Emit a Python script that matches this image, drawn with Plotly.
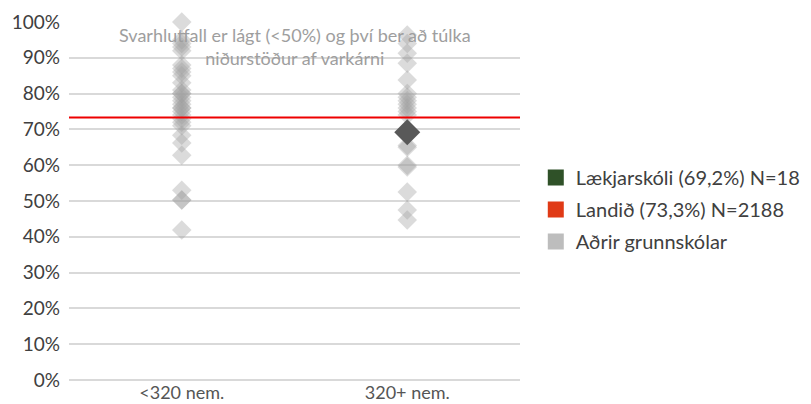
import plotly.graph_objects as go

categories = ["<320 nem.", "320+ nem."]

small_values = [100, 95, 94, 93, 92, 88, 87, 86, 85, 83, 81, 80, 80, 79, 78, 77, 76, 76, 75, 74, 73, 72, 71,
                68.4, 66.2, 62.8, 53, 50.3, 50.3, 41.9]
large_values = [96.4, 94, 91.3, 88.5, 83.8, 80, 79, 78, 77, 76, 75, 74, 65.5, 65, 60, 59.5, 52.5, 47.5, 44.7]

school_name = "Lækjarskóli (69,2%) N=18"
school_category = "320+ nem."
school_value = 69.2

national_name = "Landið (73,3%) N=2188"
national_value = 73.3

others_name = "Aðrir grunnskólar"

y_ticks = list(range(0, 101, 10))
y_tick_labels = [f"{v}%" for v in y_ticks]

note_text = "Svarhlutfall er lágt (<50%) og því ber að túlka<br>niðurstöður af varkárni"

FONT = "Lato, 'Open Sans', sans-serif"

fig = go.Figure()

# other schools
fig.add_trace(go.Scatter(
    x=[categories[0]] * len(small_values) + [categories[1]] * len(large_values),
    y=small_values + large_values,
    mode="markers",
    marker=dict(symbol="diamond", size=15, color="#a0a0a0", opacity=0.38, line=dict(width=0)),
    showlegend=False, cliponaxis=False, hoverinfo="y",
))

# selected school
fig.add_trace(go.Scatter(
    x=[school_category], y=[school_value], mode="markers",
    marker=dict(symbol="diamond", size=20, color="#595959", line=dict(width=0)),
    showlegend=False, cliponaxis=False,
))

# national line
fig.add_shape(type="line", xref="paper", x0=0, x1=1, yref="y", y0=national_value, y1=national_value,
              line=dict(color="#ee0000", width=2))

# legend entries
for name, col, grp in [(school_name, "#2f5128", "a"), (national_name, "#e03a16", "b"), (others_name, "#bdbdbd", "c")]:
    fig.add_trace(go.Scatter(
        x=[None], y=[None], mode="markers", name=name, legendgroup=grp,
        marker=dict(symbol="square", size=16, color=col),
    ))

fig.add_annotation(
    x=0.5, xref="paper", y=0.999, yref="paper", text=note_text, showarrow=False,
    font=dict(family=FONT, size=18, color="#9e9e9e"), align="center", yanchor="top",
)

# the page body has an 8px margin, so the figure is 8px smaller and margins shifted
fig.update_layout(
    width=803, height=396,
    margin=dict(l=61, r=291, t=14, b=24, autoexpand=False),
    paper_bgcolor="white", plot_bgcolor="white",
    font=dict(family=FONT, color="#404040"),
    showlegend=True,
    legend=dict(x=1.035, xanchor="left", y=0.62, yanchor="top",
                font=dict(family=FONT, size=20, color="#404040"),
                traceorder="grouped", tracegroupgap=3, itemwidth=30),
    xaxis=dict(type="category", categoryorder="array", categoryarray=categories,
               range=[-0.5, 1.5], showgrid=False, zeroline=False, showline=False, automargin=False,
               tickfont=dict(family=FONT, size=18, color="#555555"), ticks="", ticklen=0),
    yaxis=dict(range=[0, 100], tickvals=y_ticks, ticktext=y_tick_labels, automargin=False,
               showgrid=True, gridcolor="#d9d9d9", gridwidth=2,
               zeroline=True, zerolinecolor="#d9d9d9", zerolinewidth=2, showline=False,
               ticklabelstandoff=8,
               tickfont=dict(family=FONT, size=19, color="#404040"), ticks="", ticklen=0),
)

fig.write_html("out.html")
